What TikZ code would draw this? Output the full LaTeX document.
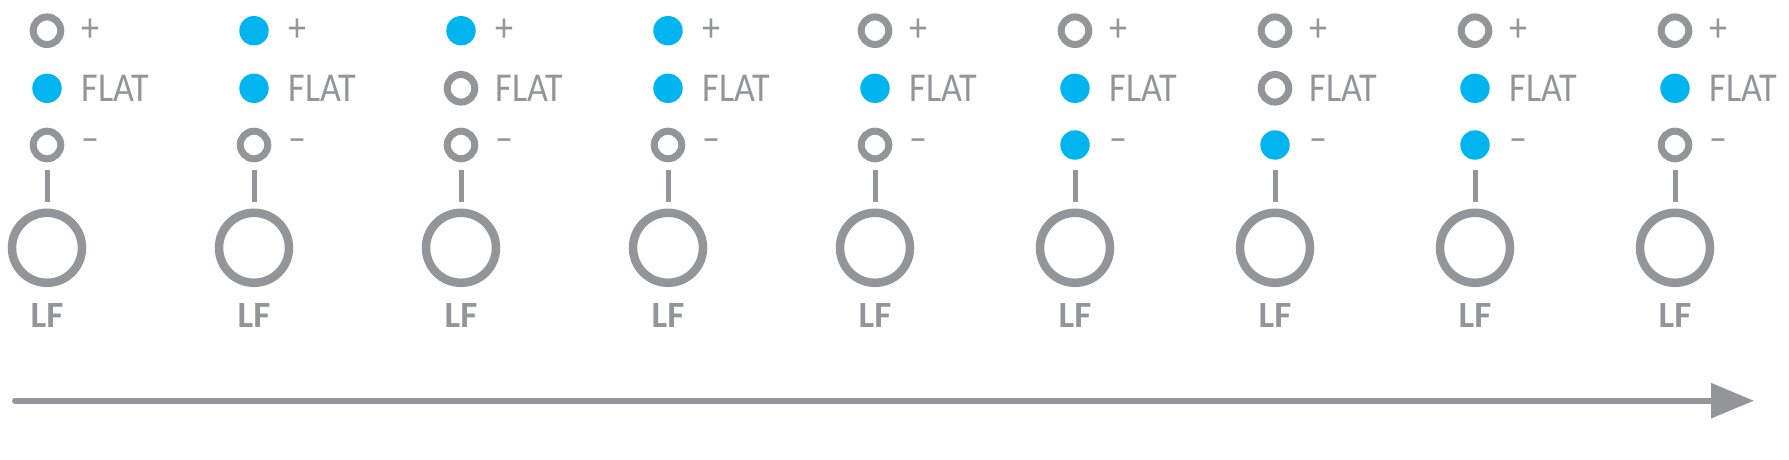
\documentclass[tikz,border=0pt]{standalone}
\usepackage{fontspec}
\setmainfont{Carlito}
\newfontfamily\lblfont[FakeStretch=0.88]{Carlito}
\usepackage{tikz}
\usetikzlibrary{arrows.meta,positioning}
\usepackage{xcolor}
\definecolor{lfgray}{RGB}{147,149,152}
\definecolor{lfblue}{RGB}{0,180,240}

\begin{document}
\begin{tikzpicture}[x=1pt,y=-1pt,
  ledoff/.style={circle,draw=lfgray,line width=7pt,minimum size=27.6pt,inner sep=0pt},
  ledon/.style={circle,fill=lfblue,minimum size=29.4pt,inner sep=0pt,outer sep=2.6pt},
  knob/.style={circle,draw=lfgray,line width=8.5pt,minimum size=70pt,inner sep=0pt},
  lbl/.style={inner sep=0pt,text=lfgray,font=\lblfont\fontsize{41}{41}\selectfont},
  lf/.style={inner sep=0pt,text=lfgray,font=\bfseries\fontsize{37}{37}\selectfont}]
\useasboundingbox (0,0) rectangle (1789,460);
\foreach \i/\x/\p/\f/\m in {1/47/off/on/off,2/254/on/on/off,3/461/on/off/off,
  4/668/on/on/off,5/875/off/on/off,6/1075/off/on/on,7/1275/off/off/on,
  8/1475/off/on/on,9/1675/off/on/off}
{
  \node[led\p] (p\i) at (\x,30.7) {};
  \node[led\f] (f\i) at (\x,88.3) {};
  \node[led\m] (m\i) at (\x,145) {};
  \node[lbl,right=17.2pt of p\i] (pt\i) {+};
  \node[lbl,right=17.2pt of f\i] (ft\i) {FLAT};
  \node[lbl,right=17.2pt of m\i] (mt\i) {–};
  \node[knob] (k\i) at (\x,247.8) {};
  \node[lf,below=16.3pt of k\i] (lf\i) {LF};
  \draw[lfgray,line width=5pt,shorten <=7.7pt,shorten >=6.5pt] (m\i) -- (k\i);
}
\coordinate (tstart) at (15,400.7);
\coordinate (tend) at (1754,400.7);
\draw[lfgray,line width=6pt,line cap=round,-{Triangle[length=43pt,width=34pt]}] (tstart) -- (tend);
\end{tikzpicture}
\end{document}
